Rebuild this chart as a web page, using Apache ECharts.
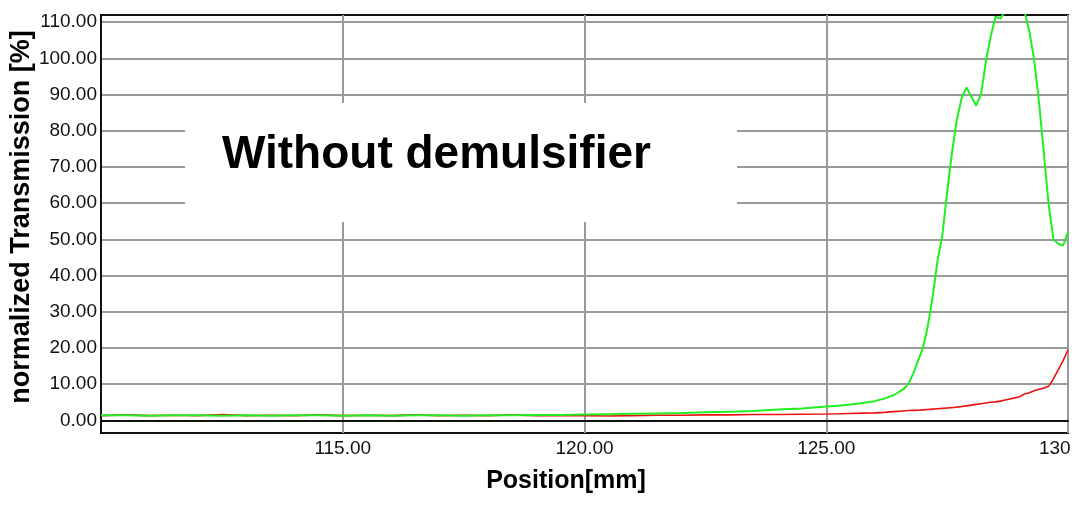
<!DOCTYPE html>
<html>
<head>
<meta charset="utf-8">
<script src="https://cdn.jsdelivr.net/npm/echarts@6/dist/echarts.min.js"></script>
<style>
html,body{margin:0;padding:0;background:#fff;overflow:hidden;}
#chart{width:1071px;height:514px;}
</style>
</head>
<body>
<div id="chart"></div>
<script>
// Positions [mm]
const positions = [
  110, 110.5, 111, 111.5, 112, 112.5, 113, 113.5, 114, 114.5,
  115, 115.5, 116, 116.5, 117, 117.5, 118, 118.5, 119, 119.5,
  120, 120.5, 121, 121.5, 122, 122.5, 123, 123.5, 124, 124.5,
  125, 125.25, 125.5, 125.75, 126, 126.2, 126.4, 126.6, 126.7, 126.8,
  126.9, 127.0, 127.1, 127.2, 127.3, 127.4, 127.5, 127.6, 127.7, 127.8,
  127.9, 128.0, 128.1, 128.2, 128.3, 128.4, 128.5, 128.6, 128.7, 128.8,
  128.9, 129.0, 129.1, 129.2, 129.3, 129.4, 129.5, 129.6, 129.7, 129.8,
  129.9, 130.0
];
// normalized transmission [%], green curve
const greenValues = [
  1.4, 1.4, 1.3, 1.4, 1.4, 1.3, 1.4, 1.3, 1.4, 1.4,
  1.3, 1.4, 1.3, 1.4, 1.4, 1.3, 1.4, 1.4, 1.5, 1.5,
  1.6, 1.7, 1.8, 1.9, 2.0, 2.2, 2.4, 2.6, 3.0, 3.3,
  3.8, 4.0, 4.4, 4.8, 5.3, 6.0, 7.0, 8.6, 10.0, 13.0,
  16.5, 20.0, 26.0, 34.0, 44.0, 51.0, 63.0, 74.0, 83.0, 89.0,
  92.0, 89.5, 87.0, 90.0, 99.0, 106.0, 111.5, 111.0, 113.0, 116.0,
  117.0, 116.0, 113.0, 107.5, 99.6, 88.0, 74.0, 59.5, 50.0, 48.8,
  48.3, 52.0
];
// normalized transmission [%], red curve
const redValues = [
  1.3, 1.5, 1.3, 1.4, 1.3, 1.6, 1.3, 1.4, 1.3, 1.5,
  1.3, 1.4, 1.3, 1.5, 1.3, 1.4, 1.3, 1.5, 1.3, 1.3,
  1.3, 1.2, 1.3, 1.4, 1.4, 1.5, 1.5, 1.6, 1.6, 1.7,
  1.75, 1.8, 1.9, 2.0, 2.05, 2.2, 2.4, 2.6, 2.7, 2.75,
  2.8, 2.9, 3.0, 3.1, 3.2, 3.3, 3.4, 3.5, 3.7, 3.8,
  4.0, 4.2, 4.4, 4.6, 4.8, 5.0, 5.1, 5.3, 5.6, 5.9,
  6.2, 6.5, 7.3, 7.6, 8.2, 8.6, 8.9, 9.4, 11.5, 14.0,
  16.5, 19.5
];
const yTicks = [0, 10, 20, 30, 40, 50, 60, 70, 80, 90, 100, 110];
const yTitle = 'normalized Transmission [%]';
const xTitle = 'Position[mm]';
const annotation = 'Without demulsifier';

const chart = echarts.init(document.getElementById('chart'), null, {renderer: 'canvas'});
const FONT = '"Liberation Sans", Arial, sans-serif';
const gridColors = yTicks.map(v => v === 0 ? '#222' : '#9a9a9a');

chart.setOption({
  animation: false,
  backgroundColor: '#ffffff',
  grid: {left: 101, top: 15, right: 3, bottom: 81, outerBoundsMode: 'none', containLabel: false,
    show: true, borderColor: '#111', borderWidth: 2, backgroundColor: 'transparent'},
  xAxis: {
    type: 'value', min: 110, max: 130, interval: 5,
    axisLine: {show: true, lineStyle: {color: '#111', width: 2}},
    axisTick: {show: false},
    axisLabel: {showMinLabel: false, color: '#111', fontFamily: FONT, fontSize: 19, margin: 6,
      formatter: v => v.toFixed(2)},
    splitLine: {show: true, lineStyle: {color: '#9a9a9a', width: 2}}
  },
  yAxis: {
    type: 'value', min: -3.5, max: 112,
    axisLine: {show: true, lineStyle: {color: '#111', width: 2}},
    axisTick: {show: false, customValues: yTicks},
    axisLabel: {customValues: yTicks, color: '#111', fontFamily: FONT, fontSize: 19, margin: 4,
      formatter: v => v.toFixed(2)},
    splitLine: {show: true, lineStyle: {color: gridColors, width: 2}}
  },
  graphic: [
    {type: 'rect', z: 5, shape: {x: 185, y: 103, width: 552, height: 119}, style: {fill: '#ffffff'}},
    {type: 'text', z: 6, x: 222, y: 155, style: {text: annotation, fill: '#000', font: 'bold 46px ' + FONT, textVerticalAlign: 'middle', textAlign: 'left'}},
    {type: 'text', z: 6, x: 22, y: 217, rotation: Math.PI / 2, style: {text: yTitle, fill: '#000', font: 'bold 27px ' + FONT, textAlign: 'center', textVerticalAlign: 'middle'}},
    {type: 'text', z: 6, x: 566, y: 481, style: {text: xTitle, fill: '#000', font: 'bold 25px ' + FONT, textAlign: 'center', textVerticalAlign: 'middle'}}
  ],
  series: [
    {type: 'line', name: 'red', data: positions.map((x, i) => [x, redValues[i]]), showSymbol: false,
      lineStyle: {color: '#ee1111', width: 1.6}, itemStyle: {color: '#ee1111'}, z: 2, clip: true},
    {type: 'line', name: 'green', data: positions.map((x, i) => [x, greenValues[i]]), showSymbol: false,
      lineStyle: {color: '#22ee22', width: 2}, itemStyle: {color: '#22ee22'}, z: 3, clip: true}
  ]
});
</script>
</body>
</html>
